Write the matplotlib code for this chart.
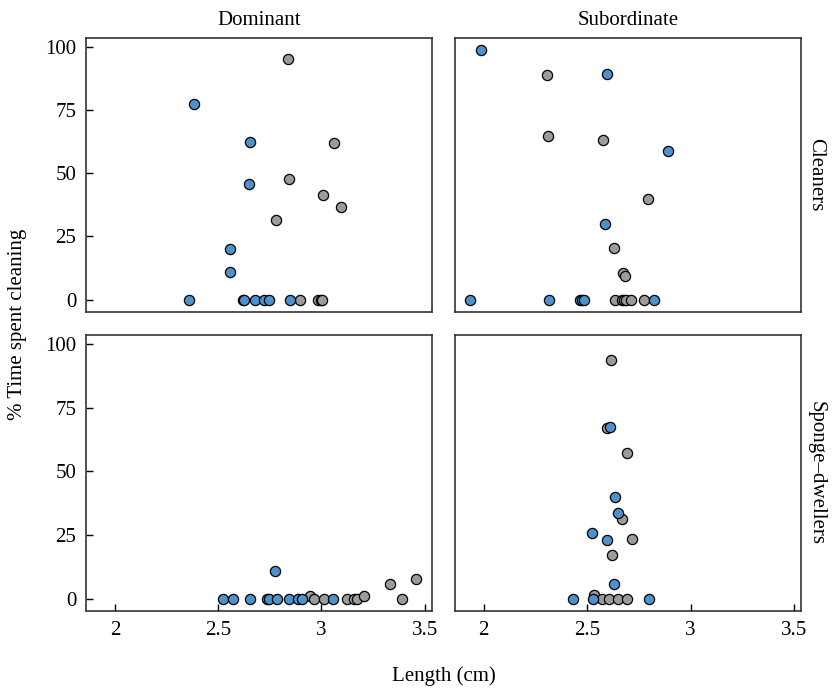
import matplotlib
matplotlib.use('Agg')
import matplotlib.pyplot as plt

plt.rcParams['font.family'] = ['Liberation Serif', 'DejaVu Serif']

blue = '#4D92CB'
grey = '#9B9B9B'

# Dominant / Cleaners
dom_cl_blue_x = [2.385, 2.656, 2.65, 2.556, 2.556, 2.36, 2.619, 2.627, 2.679, 2.722, 2.746, 2.847]
dom_cl_blue_y = [77.5, 62.6, 45.6, 20.2, 10.9, 0, 0, 0, 0, 0, 0, 0]
dom_cl_grey_x = [2.839, 3.06, 2.845, 3.008, 3.096, 2.782, 2.897, 2.982, 2.999, 3.003]
dom_cl_grey_y = [95.3, 62.2, 47.8, 41.5, 36.8, 31.5, 0, 0, 0, 0]

# Subordinate / Cleaners
sub_cl_blue_x = [1.985, 2.594, 2.89, 2.587, 1.934, 2.316, 2.464, 2.473, 2.485, 2.821]
sub_cl_blue_y = [98.7, 89.5, 58.9, 29.9, 0, 0, 0, 0, 0, 0]
sub_cl_grey_x = [2.308, 2.31, 2.579, 2.792, 2.63, 2.671, 2.681, 2.637, 2.668, 2.676, 2.69, 2.711, 2.777]
sub_cl_grey_y = [89.1, 64.7, 63.1, 40.0, 20.6, 10.5, 9.2, 0, 0, 0, 0, 0, 0]

# Dominant / Sponge-dwellers
dom_sp_blue_x = [2.777, 2.522, 2.571, 2.656, 2.735, 2.748, 2.784, 2.843, 2.887, 2.906, 3.058]
dom_sp_blue_y = [10.8, 0, 0, 0, 0, 0, 0, 0, 0, 0, 0]
dom_sp_grey_x = [3.33, 3.459, 2.945, 2.964, 3.01, 3.122, 3.155, 3.17, 3.206, 3.39]
dom_sp_grey_y = [5.8, 7.6, 1.0, 0, 0, 0, 0, 0, 1.0, 0]

# Subordinate / Sponge-dwellers
sub_sp_blue_x = [2.61, 2.637, 2.65, 2.524, 2.595, 2.632, 2.431, 2.529, 2.797]
sub_sp_blue_y = [67.6, 40.0, 33.5, 25.8, 22.9, 5.8, 0, 0, 0]
sub_sp_grey_x = [2.616, 2.594, 2.692, 2.669, 2.716, 2.622, 2.532, 2.574, 2.605, 2.65, 2.695]
sub_sp_grey_y = [94.0, 67.0, 57.2, 31.2, 23.3, 17.1, 1.5, 0, 0, 0, 0]

col_labels = ['Dominant', 'Subordinate']
row_labels = ['Cleaners', 'Sponge\u2013dwellers']
x_ticks = [2, 2.5, 3, 3.5]
x_ticklabels = ['2', '2.5', '3', '3.5']
y_ticks = [0, 25, 50, 75, 100]

panels = [
    [(dom_cl_blue_x, dom_cl_blue_y, dom_cl_grey_x, dom_cl_grey_y),
     (sub_cl_blue_x, sub_cl_blue_y, sub_cl_grey_x, sub_cl_grey_y)],
    [(dom_sp_blue_x, dom_sp_blue_y, dom_sp_grey_x, dom_sp_grey_y),
     (sub_sp_blue_x, sub_sp_blue_y, sub_sp_grey_x, sub_sp_grey_y)],
]

fig = plt.figure(figsize=(8.34, 6.93), dpi=100)

lefts = [86 / 834, 454.7 / 834]
widths = [346 / 834, 346.6 / 834]
bottoms = [1 - 312 / 693, 1 - 611 / 693]
heights = [274.3 / 693, 276 / 693]

fs = 15
for r in range(2):
    for c in range(2):
        ax = fig.add_axes([lefts[c], bottoms[r], widths[c], heights[r]])
        bx, by, gx, gy = panels[r][c]
        ax.scatter(gx, gy, s=54, c=grey, edgecolors='black', linewidths=0.9, zorder=3)
        ax.scatter(bx, by, s=54, c=blue, edgecolors='black', linewidths=0.9, zorder=4)
        ax.set_xlim(1.86, 3.535)
        ax.set_ylim(-4.9, 103.7)
        for sp in ax.spines.values():
            sp.set_color('#333333')
            sp.set_linewidth(1.2)
        ax.tick_params(direction='in', length=5, width=1, labelsize=fs, pad=7)
        if c == 0:
            ax.set_yticks(y_ticks)
        else:
            ax.set_yticks([])
        if r == 1:
            ax.set_xticks(x_ticks)
            ax.set_xticklabels(x_ticklabels)
        else:
            ax.set_xticks([])
        if r == 0:
            ax.set_title(col_labels[c], fontsize=fs, pad=9)
        if c == 1:
            ax.text(1.015, 0.5, row_labels[r], transform=ax.transAxes, rotation=270,
                    ha='left', va='center', fontsize=fs)

fig.text(18 / 834, 1 - 324 / 693, '% Time spent cleaning', rotation=90,
         ha='center', va='center', fontsize=fs)
fig.text(444 / 834, 1 - 676 / 693, 'Length (cm)', ha='center', va='center', fontsize=fs)

fig.savefig('out.png', dpi=100)
